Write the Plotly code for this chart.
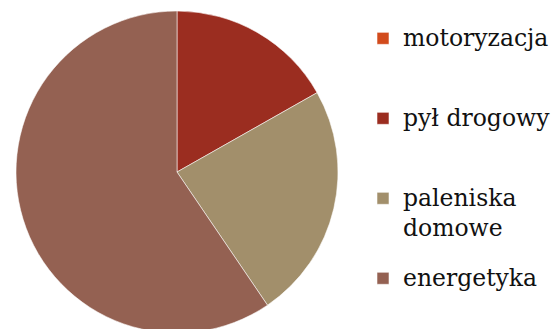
import plotly.graph_objects as go

# Source shares of emissions (percent)
labels = ["motoryzacja", "pył drogowy", "paleniska<br>domowe", "energetyka"]
values = [0.0, 16.8, 23.7, 59.5]
colors = ["#D24B1C", "#9B2D20", "#A28F6B", "#946152"]

W, H = 553, 336          # slightly taller than the window so the pie's bottom is cut
LEG_FONT = 19.74         # sets legend row pitch (3 lines per entry)
TXT_FONT = 23.5          # visible label size
WRAP_SHIFT = 4           # extra drop for a wrapped second line


def legend_label(txt):
    lines = txt.split("<br>")
    out = []
    for i, l in enumerate(lines):
        style = f"font-size:{TXT_FONT}px"
        if i > 0:
            style += f";baseline-shift:-{WRAP_SHIFT}px"
        out.append(f'<span style="{style}">{l}</span>')
    while len(out) < 3:
        out.append(" ")
    return "<br>".join(out)


fig = go.Figure(
    go.Pie(
        labels=[legend_label(l) for l in labels],
        values=values,
        marker=dict(colors=colors, line=dict(color="rgba(255,255,255,0.55)", width=1)),
        sort=False,
        direction="clockwise",
        rotation=0,
        textinfo="none",
        hoverinfo="skip",
        domain=dict(x=[16 / W, 338 / W], y=[(H - 333) / H, (H - 11) / H]),
    )
)

fig.update_layout(
    width=W,
    height=H,
    margin=dict(l=0, r=0, t=0, b=0, autoexpand=False),
    paper_bgcolor="white",
    plot_bgcolor="white",
    font=dict(family="DejaVu Serif", color="#111111"),
    showlegend=True,
    legend=dict(
        x=363 / W,
        xanchor="left",
        y=1 - 19 / H,
        yanchor="top",
        valign="top",
        font=dict(family="DejaVu Serif", size=LEG_FONT, color="#111111"),
        bgcolor="rgba(0,0,0,0)",
        itemclick=False,
        itemdoubleclick=False,
    ),
)

fig.write_html(
    "out.html",
    post_script="document.documentElement.style.overflow='hidden';document.body.style.overflow='hidden';",
)
